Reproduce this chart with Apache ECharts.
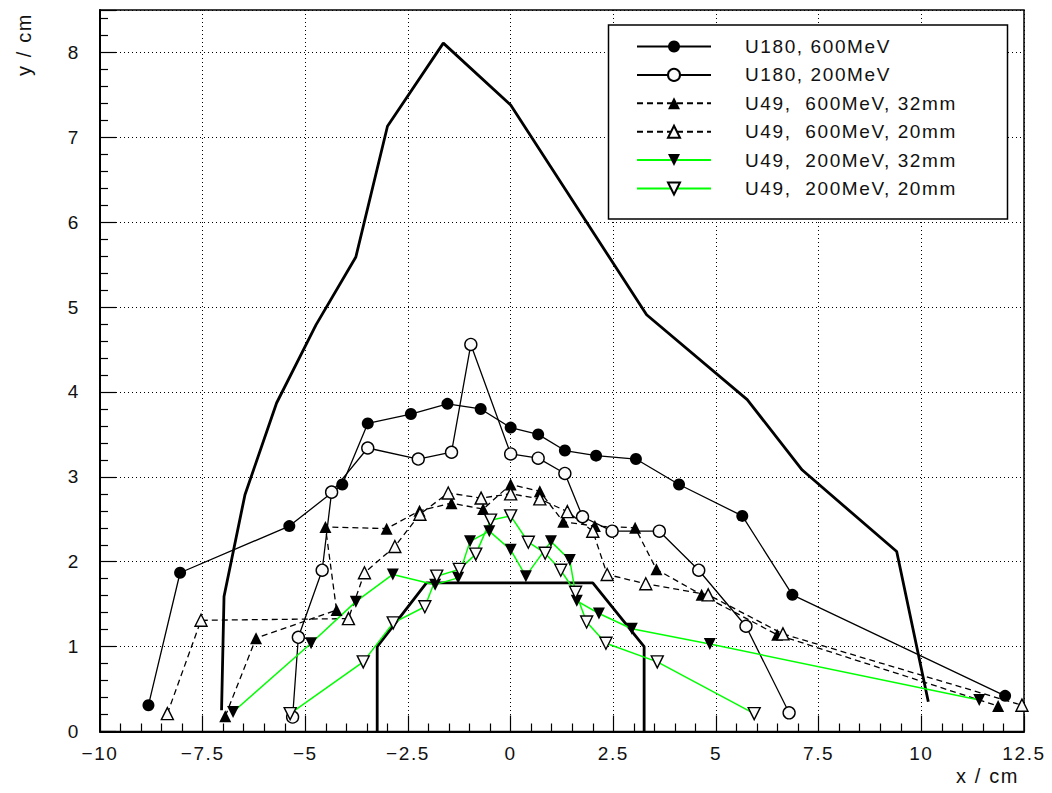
<!DOCTYPE html>
<html>
<head>
<meta charset="utf-8">
<script src="https://cdn.jsdelivr.net/npm/echarts@6/dist/echarts.min.js"></script>
<style>
  html, body { margin: 0; padding: 0; background: #fff; }
  #chart { width: 1052px; height: 793px; }
  #chart svg text { letter-spacing: 1.6px; }
</style>
</head>
<body>
<div id="chart"></div>
<script>
// Outer envelope (thick line, no markers)
const envX = [-7.04, -6.98, -6.47, -5.70, -4.74, -3.77, -3.00, -1.64, 0.00, 3.31, 5.76, 7.10, 9.40, 10.17];
const envY = [0.25, 1.59, 2.79, 3.87, 4.79, 5.59, 7.13, 8.11, 7.38, 4.91, 3.91, 3.08, 2.12, 0.35];

// Aperture outline (thick trapezoid)
const trapX = [-3.25, -3.25, -2.05, 2.00, 3.25, 3.25];
const trapY = [0.00, 1.00, 1.75, 1.75, 1.00, 0.00];

// U180, 600MeV
const u180_600X = [-8.82, -8.05, -5.39, -4.10, -3.48, -2.43, -1.54, -0.73, 0.00, 0.67, 1.32, 2.08, 3.05, 4.10, 5.64, 6.86, 12.04];
const u180_600Y = [0.31, 1.87, 2.42, 2.91, 3.63, 3.74, 3.86, 3.80, 3.58, 3.50, 3.31, 3.25, 3.21, 2.91, 2.54, 1.61, 0.42];

// U180, 200MeV
const u180_200X = [-5.31, -5.17, -4.59, -4.36, -3.48, -2.25, -1.44, -0.97, 0.00, 0.67, 1.32, 1.75, 2.47, 3.62, 4.58, 5.73, 6.78];
const u180_200Y = [0.17, 1.11, 1.90, 2.82, 3.34, 3.21, 3.29, 4.56, 3.27, 3.22, 3.04, 2.53, 2.36, 2.36, 1.90, 1.24, 0.22];

// U49, 600MeV, 32mm
const u49_600_32X = [-6.95, -6.20, -4.24, -4.51, -3.02, -2.22, -1.44, -0.67, 0.00, 0.71, 1.28, 2.05, 3.03, 3.55, 4.65, 6.49, 11.87];
const u49_600_32Y = [0.18, 1.10, 1.43, 2.41, 2.39, 2.60, 2.69, 2.62, 2.91, 2.83, 2.47, 2.42, 2.40, 1.91, 1.61, 1.14, 0.30];

// U49, 600MeV, 20mm
const u49_600_20X = [-8.36, -7.54, -3.95, -3.56, -2.82, -2.21, -1.52, -0.72, 0.00, 0.71, 1.38, 2.00, 2.35, 3.29, 4.81, 6.63, 12.45];
const u49_600_20Y = [0.21, 1.31, 1.33, 1.87, 2.18, 2.56, 2.81, 2.75, 2.80, 2.74, 2.59, 2.36, 1.85, 1.74, 1.61, 1.15, 0.31];

// U49, 200MeV, 32mm
const u49_200_32X = [-6.76, -4.86, -3.77, -2.87, -1.84, -1.28, -0.99, -0.52, 0.00, 0.37, 0.98, 1.44, 1.61, 2.15, 2.95, 4.85, 11.41];
const u49_200_32Y = [0.23, 1.04, 1.53, 1.85, 1.73, 1.81, 2.24, 2.36, 2.14, 1.83, 2.24, 2.02, 1.54, 1.39, 1.21, 1.03, 0.37];

// U49, 200MeV, 20mm
const u49_200_20X = [-5.37, -3.59, -2.86, -2.09, -1.80, -1.25, -0.85, -0.49, 0.00, 0.43, 0.84, 1.22, 1.58, 1.85, 2.32, 3.57, 5.93];
const u49_200_20Y = [0.21, 0.82, 1.28, 1.47, 1.83, 1.91, 2.09, 2.49, 2.54, 2.23, 2.10, 1.90, 1.64, 1.29, 1.04, 0.82, 0.21];

const seriesNames = [
  'U180, 600MeV',
  'U180, 200MeV',
  'U49,  600MeV, 32mm',
  'U49,  600MeV, 20mm',
  'U49,  200MeV, 32mm',
  'U49,  200MeV, 20mm'
];

// Axis ranges and tick spacing
const xMin = -10, xMax = 12.5, xStep = 2.5;
const yMin = 0, yMax = 8.5, yStep = 1;

const pairs = (xs, ys) => xs.map((x, i) => [x, ys[i]]);
const FONT = 'Liberation Sans';
const GREEN = '#00ff00';
const OPEN_FILL = '#fafafa';

const fmtTick = v => (v < 0 ? '\u2212' + Math.abs(v) : String(v));

function markerSeries(name, xs, ys, opts) {
  return {
    type: 'line',
    name: name,
    data: pairs(xs, ys),
    symbol: opts.symbol,
    symbolSize: opts.size,
    symbolRotate: opts.rotate || 0,
    showAllSymbol: true,
    lineStyle: { color: opts.lineColor, width: opts.lineWidth, type: opts.dash || 'solid' },
    itemStyle: opts.open
      ? { color: OPEN_FILL, borderColor: '#000', borderWidth: 1.4 }
      : { color: '#000', borderWidth: 0 },
    emphasis: { disabled: true },
    z: 3
  };
}

const chart = echarts.init(document.getElementById('chart'), null, { renderer: 'svg' });

chart.setOption({
  animation: false,
  backgroundColor: '#fff',
  grid: {
    left: 100, right: 28, top: 10, bottom: 61.5,
    show: true, borderColor: '#000', borderWidth: 1.5, backgroundColor: 'transparent'
  },
  xAxis: {
    type: 'value', min: xMin, max: xMax, interval: xStep,
    axisLine: { onZero: false, lineStyle: { color: '#000', width: 2 } },
    axisTick: { inside: true, length: 16, lineStyle: { color: '#000', width: 1.2 } },
    minorTick: { show: true, splitNumber: 5, length: 8, lineStyle: { color: '#000', width: 1.2 } },
    splitLine: { show: true, lineStyle: { color: '#000', width: 1, type: [1, 3] } },
    axisLabel: { color: '#111', fontFamily: FONT, fontSize: 19, margin: 12, formatter: fmtTick }
  },
  yAxis: {
    type: 'value', min: yMin, max: yMax, interval: yStep,
    axisLine: { show: true, onZero: false, lineStyle: { color: '#000', width: 2 } },
    axisTick: { show: true, inside: true, length: 16, lineStyle: { color: '#000', width: 1.2 } },
    minorTick: { show: true, splitNumber: 5, length: 8, lineStyle: { color: '#000', width: 1.2 } },
    splitLine: { show: true, lineStyle: { color: '#000', width: 1, type: [1, 3] } },
    axisLabel: { color: '#111', fontFamily: FONT, fontSize: 19, margin: 20, showMaxLabel: false, formatter: fmtTick }
  },
  legend: {
    data: seriesNames,
    orient: 'vertical',
    left: 636, top: 37,
    padding: 0,
    itemWidth: 74, itemHeight: 15, itemGap: 9.4,
    symbolRotate: 'inherit',
    selectedMode: false,
    textStyle: { color: '#111', fontFamily: FONT, fontSize: 19, lineHeight: 14, padding: [0, 0, 0, 29] },
    z: 6
  },
  graphic: [
    {
      type: 'rect', z: 5,
      shape: { x: 608.5, y: 25, width: 399, height: 194 },
      style: { fill: '#fff', stroke: '#000', lineWidth: 1.5 }
    },
    {
      type: 'text', z: 6, x: 1019, y: 776,
      style: { text: 'x / cm', fill: '#111', font: '20px "Liberation Sans"', textAlign: 'right', textVerticalAlign: 'middle' }
    },
    {
      type: 'text', z: 6, x: 24, y: 13, rotation: Math.PI / 2,
      style: { text: 'y / cm', fill: '#111', font: '20px "Liberation Sans"', textAlign: 'right', textVerticalAlign: 'middle' }
    }
  ],
  series: [
    {
      type: 'line', name: 'envelope', data: pairs(envX, envY),
      symbol: 'none', lineStyle: { color: '#000', width: 2.8 }, emphasis: { disabled: true }, z: 2
    },
    {
      type: 'line', name: 'aperture', data: pairs(trapX, trapY),
      symbol: 'none', lineStyle: { color: '#000', width: 2.8 }, emphasis: { disabled: true }, z: 2
    },
    markerSeries(seriesNames[0], u180_600X, u180_600Y, { symbol: 'circle', size: 12, lineColor: '#000', lineWidth: 1.3 }),
    markerSeries(seriesNames[1], u180_200X, u180_200Y, { symbol: 'circle', size: 12, lineColor: '#000', lineWidth: 1.3, open: true }),
    markerSeries(seriesNames[2], u49_600_32X, u49_600_32Y, { symbol: 'triangle', size: 12, lineColor: '#000', lineWidth: 1.3, dash: [6, 4] }),
    markerSeries(seriesNames[3], u49_600_20X, u49_600_20Y, { symbol: 'triangle', size: 12, lineColor: '#000', lineWidth: 1.3, dash: [6, 4], open: true }),
    markerSeries(seriesNames[4], u49_200_32X, u49_200_32Y, { symbol: 'triangle', size: 12, rotate: 180, lineColor: GREEN, lineWidth: 1.5 }),
    markerSeries(seriesNames[5], u49_200_20X, u49_200_20Y, { symbol: 'triangle', size: 12, rotate: 180, lineColor: GREEN, lineWidth: 1.5, open: true })
  ]
});
</script>
</body>
</html>
